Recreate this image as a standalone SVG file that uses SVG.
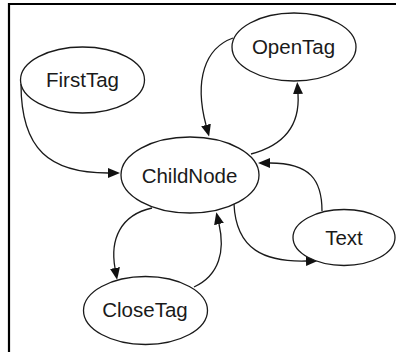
<svg xmlns="http://www.w3.org/2000/svg" width="396" height="352" viewBox="0 0 396 352">
<style>
.node ellipse{fill:#fff;stroke:#1a1a1a;stroke-width:1.3}
.node text{font-family:"Liberation Sans",Arial,sans-serif;font-size:20.5px;fill:#1a1a1a;text-anchor:middle}
.edge{fill:none;stroke:#1a1a1a;stroke-width:1.3;marker-end:url(#arr)}
</style>
<defs>
<marker id="arr" viewBox="0 0 12 10" refX="0" refY="5" markerWidth="12" markerHeight="10" markerUnits="userSpaceOnUse" orient="auto">
<path d="M0,0 L12,5 L0,10 Z" fill="#111"/>
</marker>
</defs>
<rect width="396" height="352" fill="#fff"/>
<path d="M9,352 V4 H396" fill="none" stroke="#000" stroke-width="2.2"/>
<g id="connectors">
<path class="edge" d="M21,84 C21,150 50,173 108,173"/>
<path class="edge" d="M233,38 C205,48 194,80 206,125"/>
<path class="edge" d="M251,154 C285,145 300,125 298,94"/>
<path class="edge" d="M322,211 C322,180 310,163 270,163"/>
<path class="edge" d="M234,204 C236,250 265,262 306,261"/>
<path class="edge" d="M152,208 C120,215 110,240 115,268"/>
<path class="edge" d="M194,287 C220,275 225,250 219,224"/>
</g>
<g id="FirstTag" class="node"><ellipse cx="82.5" cy="80" rx="62" ry="33"/><text x="82.5" y="87">FirstTag</text></g>
<g id="OpenTag" class="node"><ellipse cx="294" cy="47" rx="62" ry="34"/><text x="293.5" y="53.5">OpenTag</text></g>
<g id="ChildNode" class="node"><ellipse cx="190" cy="175" rx="69" ry="38"/><text x="189.5" y="182.5">ChildNode</text></g>
<g id="Text" class="node"><ellipse cx="344" cy="237.5" rx="51" ry="28"/><text x="344" y="245">Text</text></g>
<g id="CloseTag" class="node"><ellipse cx="145.5" cy="310.5" rx="62" ry="34"/><text x="145" y="317">CloseTag</text></g>
</svg>
